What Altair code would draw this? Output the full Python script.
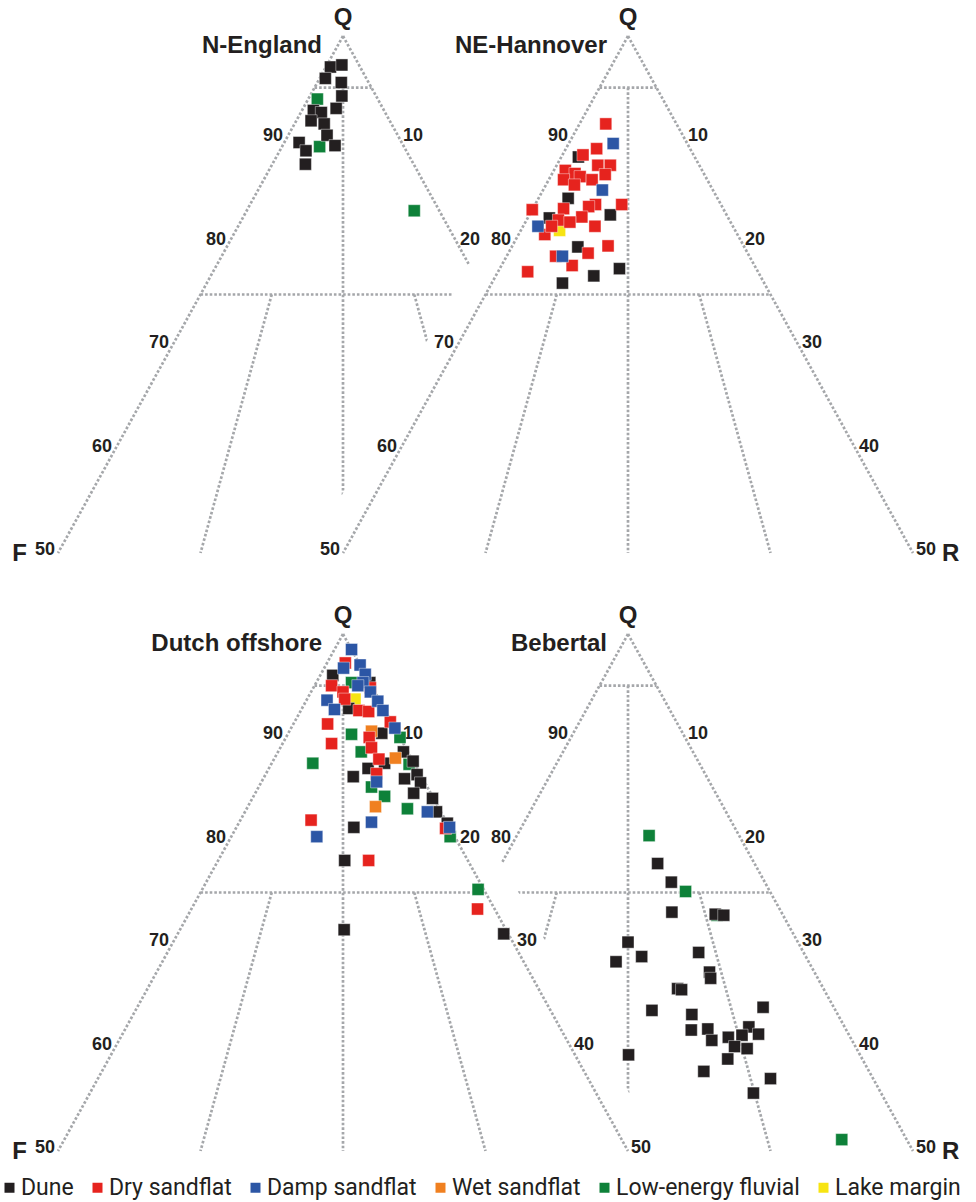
import altair as alt
import pandas as pd

# ---------------------------------------------------------------------------
# Facies legend
# ---------------------------------------------------------------------------
FACIES = ["Dune", "Dry sandflat", "Damp sandflat", "Wet sandflat",
          "Low-energy fluvial", "Lake margin"]
COLOURS = ["#231f20", "#e6231e", "#2c56a5", "#f08020", "#0e8139", "#f7e412"]
# drawing order (later = on top)
DRAW_RANK = {"Low-energy fluvial": 0, "Lake margin": 1, "Dune": 2,
             "Wet sandflat": 3, "Dry sandflat": 4, "Damp sandflat": 5}

# ---------------------------------------------------------------------------
# QFR compositions (Q, F, R in %)
# ---------------------------------------------------------------------------
N_ENGLAND_DUNE = [
    (97.0, 2.6, 0.4), (97.2, 1.5, 1.3), (95.9, 3.6, 0.5), (95.5, 2.4, 2.1),
    (94.2, 3.0, 2.8), (93.0, 4.1, 2.9), (92.8, 6.2, 1.0), (92.6, 5.6, 1.8),
    (91.8, 6.9, 1.3), (91.5, 5.9, 2.6), (90.4, 6.2, 3.4), (89.7, 9.0, 1.3),
    (88.9, 8.8, 2.3), (89.4, 6.0, 4.6), (87.6, 9.5, 2.9),
]
N_ENGLAND_FLUVIAL = [(93.9, 5.3, 0.8), (89.3, 7.4, 3.3), (83.1, 2.2, 14.7)]

NE_HANNOVER_DRY = [
    (91.5, 6.2, 2.3), (89.1, 8.2, 2.7), (88.5, 9.7, 1.8), (87.5, 8.9, 3.6),
    (87.5, 7.8, 4.7), (86.6, 8.7, 4.7), (87.0, 12.0, 1.0), (86.7, 11.3, 2.0),
    (86.1, 12.6, 1.3), (86.4, 11.0, 2.6), (86.1, 10.1, 3.8), (85.6, 11.9, 2.5),
    (83.7, 8.7, 7.6), (83.7, 11.0, 5.3), (83.5, 11.7, 4.8), (83.2, 16.8, 0.0),
    (83.3, 14.0, 2.7), (82.5, 12.8, 4.7), (82.2, 15.0, 2.8), (82.0, 14.1, 3.9),
    (81.6, 12.1, 6.3), (80.8, 16.9, 2.3), (79.7, 11.9, 8.4), (79.0, 14.0, 7.0),
    (78.7, 17.0, 4.3), (77.8, 16.0, 6.2), (77.2, 20.2, 2.6), (81.6, 15.9, 2.5),
]
NE_HANNOVER_DAMP = [(89.6, 6.5, 3.9), (85.1, 9.7, 5.2), (81.6, 17.1, 1.3), (78.7, 16.4, 4.9)]
NE_HANNOVER_DUNE = [
    (88.3, 10.2, 1.5), (84.3, 13.1, 2.6), (82.7, 10.2, 7.1), (79.6, 14.6, 5.8),
    (77.5, 12.0, 10.5), (76.8, 14.6, 8.6), (76.1, 17.7, 6.2), (82.4, 15.7, 1.9),
]
NE_HANNOVER_LAKE = [(81.2, 15.4, 3.4)]

DUTCH_DAMP = [
    (98.5, 0.0, 1.5), (96.7, 1.6, 1.7), (97.0, 0.0, 3.0), (96.1, 0.0, 3.9),
    (95.3, 0.6, 4.1), (95.0, 1.2, 3.8), (94.4, 0.4, 5.2), (93.5, 0.2, 6.3),
    (92.6, 0.2, 7.2), (93.6, 4.6, 1.8), (92.7, 4.4, 2.9), (90.9, 0.0, 9.1),
    (85.7, 4.2, 10.1), (81.8, 6.6, 11.6), (82.8, 1.2, 16.0), (80.4, 12.1, 7.5),
    (81.3, 0.0, 18.7),
]
DUTCH_DRY = [
    (97.2, 1.2, 1.6), (95.0, 3.5, 1.5), (94.4, 2.8, 2.8), (93.7, 3.0, 3.3),
    (92.6, 2.3, 5.1), (92.5, 1.5, 6.0), (94.8, 0.2, 5.0), (91.5, 0.1, 8.4),
    (91.3, 5.7, 3.0), (89.4, 6.3, 4.3), (90.0, 2.7, 7.3), (89.0, 3.0, 8.0),
    (87.9, 2.9, 9.2), (86.5, 3.8, 9.7), (82.0, 11.8, 6.2), (81.2, 0.4, 18.4),
    (78.1, 8.7, 13.2), (73.4, 1.5, 25.1),
]
DUTCH_DUNE = [
    (96.0, 2.9, 1.1), (92.8, 3.1, 4.1), (90.4, 1.4, 8.2), (88.6, 0.4, 11.0),
    (87.7, 0.0, 12.3), (87.0, 4.3, 8.7), (87.5, 2.6, 9.9), (86.2, 6.0, 7.8),
    (86.0, 1.6, 12.4), (86.4, 0.3, 13.3), (85.6, 0.4, 14.0), (84.6, 1.5, 13.9),
    (84.1, 0.1, 15.8), (82.8, 0.4, 16.8), (81.3, 8.4, 10.3), (78.1, 10.8, 11.1),
    (81.7, 0.0, 18.3), (71.4, 14.2, 14.4), (71.0, 0.4, 28.6), (95.3, 0.0, 4.7),
]
DUTCH_FLUVIAL = [
    (90.3, 4.1, 5.6), (88.6, 4.1, 7.3), (87.5, 8.9, 3.6), (90.0, 0.0, 10.0),
    (87.4, 0.5, 12.1), (85.2, 4.9, 9.9), (84.3, 4.2, 11.5), (83.1, 2.8, 14.1),
    (80.4, 0.4, 19.2), (75.3, 0.5, 24.2), (95.3, 1.6, 3.1),
]
DUTCH_WET = [(88.0, 1.4, 10.6), (83.3, 5.5, 11.2), (90.6, 2.2, 7.2)]
DUTCH_LAKE = [(93.7, 2.1, 4.2)]

BEBERTAL_FLUVIAL = [(80.5, 7.9, 11.6), (75.1, 7.4, 17.5), (72.8, 5.8, 21.4), (51.1, 5.7, 43.2)]
BEBERTAL_DUNE = [
    (77.8, 8.5, 13.7), (76.0, 8.2, 15.8), (73.1, 9.6, 17.3), (72.9, 5.9, 21.2),
    (72.8, 5.2, 22.0), (70.2, 14.9, 14.9), (68.3, 16.9, 14.8), (68.8, 14.4, 16.8),
    (69.2, 9.2, 21.6), (67.3, 9.2, 23.5), (66.7, 9.4, 23.9), (65.7, 12.8, 21.5),
    (65.6, 12.5, 21.9), (63.6, 16.1, 20.3), (63.9, 6.2, 29.9), (63.2, 12.8, 24.0),
    (61.7, 13.6, 24.7), (61.8, 12.1, 26.1), (60.7, 12.3, 27.0), (61.0, 10.7, 28.3),
    (62.0, 8.4, 29.6), (61.2, 9.4, 29.4), (61.3, 7.9, 30.8), (60.1, 10.6, 29.3),
    (59.9, 9.6, 30.5), (59.3, 20.3, 20.4), (58.9, 11.8, 29.3), (57.7, 14.5, 27.8),
    (57.0, 9.0, 34.0), (55.6, 11.2, 33.2),
]

# panel name, column, row, samples per facies
PANELS = [
    ("N-England", 0, 0, {"Dune": N_ENGLAND_DUNE, "Low-energy fluvial": N_ENGLAND_FLUVIAL}),
    ("NE-Hannover", 1, 0, {"Dune": NE_HANNOVER_DUNE, "Dry sandflat": NE_HANNOVER_DRY,
                           "Damp sandflat": NE_HANNOVER_DAMP, "Lake margin": NE_HANNOVER_LAKE}),
    ("Dutch offshore", 0, 1, {"Dune": DUTCH_DUNE, "Dry sandflat": DUTCH_DRY,
                              "Damp sandflat": DUTCH_DAMP, "Wet sandflat": DUTCH_WET,
                              "Low-energy fluvial": DUTCH_FLUVIAL, "Lake margin": DUTCH_LAKE}),
    ("Bebertal", 1, 1, {"Dune": BEBERTAL_DUNE, "Low-energy fluvial": BEBERTAL_FLUVIAL}),
]

# Tick labels on the Q-F edge (Q %) and on the Q-R edge (R %)
QF_TICKS = [90, 80, 70, 60, 50]
QR_TICKS = [10, 20, 30, 40, 50]

# Folk-type field boundaries of the upper half of the QFR triangle
GRID = [
    ((100, 0, 0), (50, 50, 0)),            # Q-F edge
    ((100, 0, 0), (50, 0, 50)),            # Q-R edge
    ((95, 5, 0), (95, 0, 5)),              # Q95
    ((75, 25, 0), (75, 0, 25)),            # Q75
    ((95, 2.5, 2.5), (50, 25, 25)),        # F:R = 1:1
    ((75, 18.75, 6.25), (50, 37.5, 12.5)), # F:R = 3:1
    ((75, 6.25, 18.75), (50, 12.5, 37.5)), # F:R = 1:3
]

# ---------------------------------------------------------------------------
# Layout
# ---------------------------------------------------------------------------
W, H = 976, 1202
PX_X = 11.4            # pixels per unit of (R - F) / 2
PX_Q = 10.34           # pixels per percent Q
COL_STEP = 25.0        # neighbouring triangles share the Q50 corner
ROW_STEP = 598 / PX_Q  # vertical offset of the lower row
LEFT = 343 / PX_X
TOP = 36 / PX_Q
MASK_PAD = 33 / PX_X
XMIN, XMAX = -LEFT, W / PX_X - LEFT
YMIN, YMAX = -TOP, H / PX_Q - TOP

INK = "#231f20"
GRID_COLOUR = "#a5a7aa"
FONT = "Liberation Sans"
LEGEND_FONT = "Roboto"

XS = alt.Scale(domain=[XMIN, XMAX], nice=False, zero=False)
YS = alt.Scale(domain=[YMIN, YMAX], nice=False, zero=False, reverse=True)


def ex():
    return alt.X("x:Q", scale=XS, axis=None)


def ey():
    return alt.Y("y:Q", scale=YS, axis=None)


def xy(q, f, r, col, row):
    s = q + f + r
    q, f, r = 100 * q / s, 100 * f / s, 100 * r / s
    return col * COL_STEP + (r - f) / 2, row * ROW_STEP + (100 - q)


def frame_layer(col, row):
    recs = []
    for a, b in GRID:
        x1, y1 = xy(*a, col, row)
        x2, y2 = xy(*b, col, row)
        recs.append({"x": x1, "y": y1, "x2": x2, "y2": y2})
    return alt.Chart(pd.DataFrame(recs)).mark_rule(
        color=GRID_COLOUR, strokeWidth=2.7, strokeDash=[2.6, 2.0]
    ).encode(x=ex(), y=ey(), x2="x2:Q", y2="y2:Q")


def text_layer(recs, align, dx, dy, size):
    return alt.Chart(pd.DataFrame(recs)).mark_text(
        align=align, baseline="alphabetic", dx=dx, dy=dy, fontSize=size,
        font=FONT, fontWeight="bold", color=INK
    ).encode(x=ex(), y=ey(), text="label:N")


def panel_layers(name, col, row):
    ax, ay = xy(100, 0, 0, col, row)
    layers = [frame_layer(col, row)]
    left = []
    for q in QF_TICKS:
        x, y = xy(q, 100 - q, 0, col, row)
        left.append({"x": x, "y": y, "label": str(q)})
    right = []
    for r in QR_TICKS:
        x, y = xy(100 - r, 0, r, col, row)
        right.append({"x": x, "y": y, "label": str(r)})
    layers.append(text_layer(left, "right", -3, 2, 18))
    layers.append(text_layer(right, "left", 3, 2, 18))
    layers.append(text_layer([{"x": ax, "y": ay, "label": "Q"}], "center", 0, -11, 24))
    layers.append(text_layer([{"x": ax, "y": ay, "label": name}], "right", -21, 17, 24))
    if col == 0:
        fx, fy = xy(50, 50, 0, col, row)
        layers.append(text_layer([{"x": fx, "y": fy, "label": "F"}], "right", -31, 8, 24))
    else:
        rx, ry = xy(50, 0, 50, col, row)
        layers.append(text_layer([{"x": rx, "y": ry, "label": "R"}], "left", 29, 8, 24))
    return layers


def mask_layer(xs, ys, bottom):
    df = pd.DataFrame({"x": xs, "y": ys, "y2": [bottom] * len(xs)})
    return alt.Chart(df).mark_area(color="white", opacity=1, orient="vertical").encode(
        x=ex(), y=ey(), y2="y2:Q"
    )


# white backdrop of NE-Hannover, covering the right part of N-England
mask_top = mask_layer([-MASK_PAD, COL_STEP - MASK_PAD, XMAX], [50, 0, 0], 52)
# white backdrop of Dutch offshore, covering the lower-left part of Bebertal
mask_bottom = mask_layer(
    [XMIN, MASK_PAD, COL_STEP + MASK_PAD],
    [ROW_STEP, ROW_STEP, ROW_STEP + 50], ROW_STEP + 52
)

# sample points
pts = []
for name, col, row, groups in PANELS:
    for facies, comps in groups.items():
        for q, f, r in comps:
            x, y = xy(q, f, r, col, row)
            pts.append({"panel": name, "facies": facies, "Q": q, "F": f, "R": r,
                        "x": x, "y": y, "rank": DRAW_RANK[facies]})
points = pd.DataFrame(pts).sort_values("rank", kind="stable")

point_layer = alt.Chart(points).mark_square(
    size=145, opacity=1, stroke="white", strokeWidth=0.6, strokeOpacity=0.7
).encode(
    x=ex(), y=ey(),
    color=alt.Color(
        "facies:N",
        scale=alt.Scale(domain=FACIES, range=COLOURS),
        legend=alt.Legend(
            title=None, orient="none", legendX=-2, legendY=1176,
            direction="horizontal", symbolType="square", symbolSize=100,
            symbolStrokeWidth=0, symbolOpacity=1,
            labelFont=LEGEND_FONT, labelFontSize=23, labelColor=INK,
            labelOffset=0, columnPadding=12, padding=0, labelLimit=400,
        ),
    ),
    order=alt.Order("rank:Q"),
)

layers = []
layers += panel_layers("N-England", 0, 0)
layers.append(mask_top)
layers += panel_layers("NE-Hannover", 1, 0)
layers += panel_layers("Bebertal", 1, 1)
layers.append(mask_bottom)
layers += panel_layers("Dutch offshore", 0, 1)
layers.append(point_layer)

chart = alt.layer(*layers).properties(
    width=W, height=H, padding=0,
    autosize=alt.AutoSizeParams(type="none"),
    background="white",
).configure_view(stroke=None)

chart.save("out.html", embed_options={"renderer": "svg", "actions": False})
